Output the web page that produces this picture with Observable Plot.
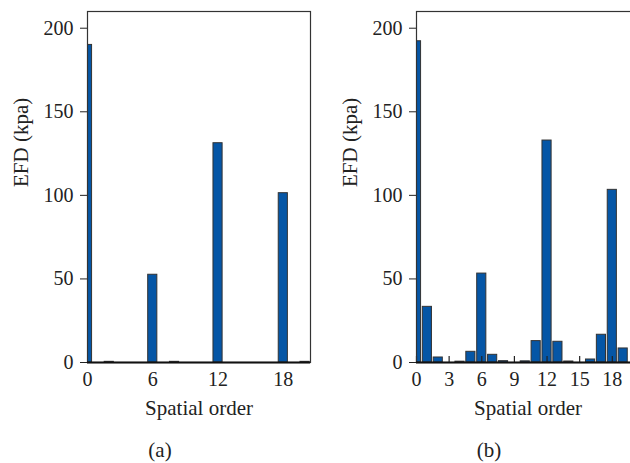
<!DOCTYPE html>
<html>
<head>
<meta charset="utf-8">
<script src="https://cdn.jsdelivr.net/npm/d3@7"></script>
<script src="https://cdn.jsdelivr.net/npm/@observablehq/plot@0.6"></script>
<style>
  html, body { margin: 0; padding: 0; background: #fff; overflow: hidden; }
  #wrap { position: relative; width: 630px; height: 463px; overflow: hidden; font-family: "Liberation Serif", "DejaVu Serif", serif; }
  .panel { position: absolute; top: 0; }
  .cap { position: absolute; font-size: 21px; color: #222; transform: translateX(-50%); line-height: 1; }
</style>
</head>
<body>
<div id="wrap"></div>
<script>
// Spatial orders and EFD amplitudes (kPa) for the two cases
const ordersA = [0, 1, 2, 3, 4, 5, 6, 7, 8, 9, 10, 11, 12, 13, 14, 15, 16, 17, 18, 19, 20];
const efdA = [190, 0, 0.4, 0, 0, 0, 52.5, 0, 0.4, 0, 0, 0, 131.2, 0, 0, 0, 0, 0, 101.3, 0, 0.4];

const ordersB = [0, 1, 2, 3, 4, 5, 6, 7, 8, 9, 10, 11, 12, 13, 14, 15, 16, 17, 18, 19];
const efdB = [192.2, 33.3, 3, 0, 0.5, 6.4, 53.2, 4.6, 0.8, 0, 0.7, 12.8, 132.8, 12.4, 0.6, 0, 1.8, 16.6, 103.3, 8.4];

const yTicks = [0, 50, 100, 150, 200];
const xTicksA = [0, 6, 12, 18];
const xTicksB = [0, 3, 6, 9, 12, 15, 18];

const xLabel = "Spatial order";
const yLabel = "EFD (kpa)";
const captions = ["(a)", "(b)"];

const barHalf = 0.42;
const tickLen = 3.6; // inner x-tick length, in kPa units (about 6px)

function panel(orders, values, xTicks, innerTicks) {
  const data = orders.map((o, i) => ({order: o, value: values[i]}));
  return Plot.plot({
    width: 320,
    height: 463,
    marginLeft: 87,
    marginRight: 10,
    marginTop: 11,
    marginBottom: 101,
    style: {fontFamily: "Liberation Serif, serif", fontSize: "20px", color: "#222", background: "#fff"},
    x: {domain: [0, 20.5], ticks: xTicks, tickSize: 0, tickPadding: 9, tickFormat: d => String(d), label: null},
    y: {domain: [0, 210], ticks: yTicks, tickSize: 7, tickPadding: 7, label: null},
    marks: [
      Plot.rectY(data, {
        x1: d => d.order - barHalf,
        x2: d => d.order + barHalf,
        y1: 0,
        y2: "value",
        fill: "#0556a6",
        stroke: "#333",
        strokeWidth: 1,
        clip: true
      }),
      innerTicks ? Plot.ruleX(xTicks, {x: d => d, y1: 0, y2: tickLen, stroke: "#222", strokeWidth: 1.2}) : null,
      Plot.frame({stroke: "#333", strokeWidth: 1.2}),
      Plot.ruleY([0], {stroke: "#111", strokeWidth: 2.2}),
      Plot.text([xLabel], {frameAnchor: "bottom", dy: 52, text: d => d, fontSize: 21, fill: "#222"}),
      Plot.text([yLabel], {frameAnchor: "left", dx: -66, rotate: -90, text: d => d, fontSize: 21, fill: "#222"})
    ]
  });
}

const wrap = document.getElementById("wrap");
const a = panel(ordersA, efdA, xTicksA, false);
a.classList.add("panel");
a.style.left = "0px";
wrap.appendChild(a);

const b = panel(ordersB, efdB, xTicksB, true);
b.classList.add("panel");
b.style.left = "329px";
wrap.appendChild(b);

[[captions[0], 160], [captions[1], 489]].forEach(([t, cx]) => {
  const el = document.createElement("div");
  el.className = "cap";
  el.textContent = t;
  el.style.left = cx + "px";
  el.style.top = "440px";
  wrap.appendChild(el);
});
</script>
</body>
</html>
